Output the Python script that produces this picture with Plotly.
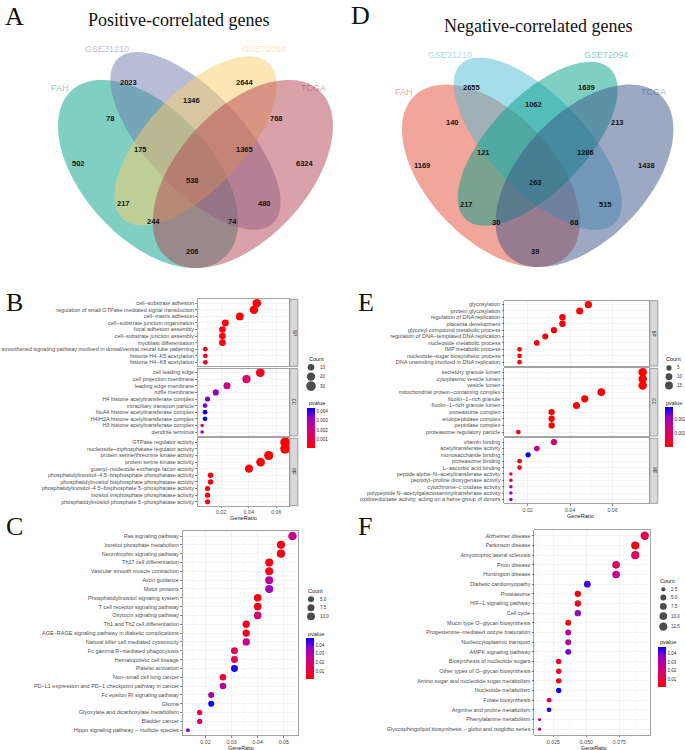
import numpy as np
import plotly.graph_objects as go

W, H = 685, 750
FONT = "Liberation Sans"
SERIF = "Liberation Serif"

# ---------------- Venn data ----------------
venn_sets = ["FAH", "GSE31210", "GSE72094", "TCGA"]
venn_regions = ["FAH", "GSE31210", "GSE72094", "TCGA",
                "FAH&GSE31210", "GSE31210&GSE72094", "GSE72094&TCGA",
                "FAH&GSE72094", "GSE31210&TCGA", "FAH&TCGA",
                "FAH&GSE31210&GSE72094", "GSE31210&GSE72094&TCGA",
                "FAH&GSE72094&TCGA", "FAH&GSE31210&TCGA", "all"]
pos_counts = [502, 2023, 2644, 6324, 78, 1346, 768, 217, 480, 206, 175, 1365, 244, 74, 538]
neg_counts = [1169, 2655, 1639, 1438, 140, 1062, 213, 217, 515, 39, 121, 1286, 30, 68, 263]
pos_colors = ["#00A087", "#6F7CAE", "#FBCD69", "#B34351"]
neg_colors = ["#E64B35", "#4DBBD5", "#00A087", "#3C5488"]

# ---------------- B : GO positive ----------------
B_bp_terms = ["cell−substrate adhesion", "regulation of small GTPase mediated signal transduction",
              "cell−matrix adhesion", "cell−substrate junction organization", "focal adhesion assembly",
              "cell−substrate junction assembly", "myoblast differentiation",
              "smoothened signaling pathway involved in dorsal/ventral neural tube patterning",
              "histone H4−K5 acetylation", "histone H4−K8 acetylation"]
B_bp_ratio = [0.0459, 0.0438, 0.0336, 0.0231, 0.0210, 0.0210, 0.0210, 0.0086, 0.0086, 0.0086]
B_bp_count = [22, 21, 16, 11, 10, 10, 10, 4, 4, 4]
B_bp_p = [0.0001, 0.0002, 0.0001, 0.0002, 0.0002, 0.0002, 0.0003, 0.0006, 0.0006, 0.0006]

B_cc_terms = ["cell leading edge", "cell projection membrane", "leading edge membrane", "ruffle membrane",
              "H4 histone acetyltransferase complex", "intraciliary transport particle",
              "NuA4 histone acetyltransferase complex", "H4/H2A histone acetyltransferase complex",
              "H3 histone acetyltransferase complex", "dendrite terminus"]
B_cc_ratio = [0.0484, 0.0384, 0.0243, 0.0162, 0.0102, 0.0084, 0.0084, 0.0084, 0.0063, 0.0063]
B_cc_count = [23, 18, 12, 8, 5, 4, 4, 4, 3, 3]
B_cc_p = [0.0006, 0.0015, 0.0022, 0.0032, 0.0035, 0.0036, 0.0043, 0.0043, 0.0012, 0.0034]

B_mf_terms = ["GTPase regulator activity", "nucleoside−triphosphatase regulator activity",
              "protein serine/threonine kinase activity", "protein serine kinase activity",
              "guanyl−nucleotide exchange factor activity",
              "phosphatidylinositol−4,5−bisphosphate phosphatase activity",
              "phosphatidylinositol bisphosphate phosphatase activity",
              "phosphatidylinositol−4,5−bisphosphate 5−phosphatase activity",
              "inositol trisphosphate phosphatase activity",
              "phosphatidylinositol phosphate 5−phosphatase activity"]
B_mf_ratio = [0.0664, 0.0664, 0.0545, 0.0486, 0.0402, 0.0124, 0.0124, 0.0102, 0.0102, 0.0102]
B_mf_count = [31, 31, 26, 23, 19, 6, 6, 5, 5, 5]
B_mf_p = [0.0001, 0.0001, 0.0001, 0.0001, 0.0002, 0.0002, 0.0002, 0.0002, 0.0002, 0.0002]

# ---------------- C : KEGG positive ----------------
C_terms = ["Ras signaling pathway", "Inositol phosphate metabolism", "Neurotrophin signaling pathway",
           "Th17 cell differentiation", "Vascular smooth muscle contraction", "Axon guidance",
           "Motor proteins", "Phosphatidylinositol signaling system", "T cell receptor signaling pathway",
           "Oxytocin signaling pathway", "Th1 and Th2 cell differentiation",
           "AGE−RAGE signaling pathway in diabetic complications",
           "Natural killer cell mediated cytotoxicity", "Fc gamma R−mediated phagocytosis",
           "Hematopoietic cell lineage", "Platelet activation", "Non−small cell lung cancer",
           "PD−L1 expression and PD−1 checkpoint pathway in cancer", "Fc epsilon RI signaling pathway",
           "Glioma", "Glyoxylate and dicarboxylate metabolism", "Bladder cancer",
           "Hippo signaling pathway − multiple species"]
C_count = [12, 11, 11, 10, 10, 10, 10, 9, 9, 9, 8, 8, 8, 7, 7, 7, 6, 6, 5, 5, 4, 4, 3]
C_ratio = [0.0533, 0.0489, 0.0489, 0.0444, 0.0444, 0.0444, 0.0444, 0.0400, 0.0400, 0.0400,
           0.0356, 0.0356, 0.0356, 0.0311, 0.0311, 0.0311, 0.0267, 0.0267, 0.0222, 0.0222,
           0.0178, 0.0178, 0.0133]
C_p = [0.024, 0.004, 0.004, 0.003, 0.004, 0.029, 0.034, 0.003, 0.004, 0.019, 0.006, 0.006,
       0.024, 0.012, 0.012, 0.046, 0.009, 0.029, 0.032, 0.047, 0.009, 0.018, 0.036]

# ---------------- E : GO negative ----------------
E_bp_terms = ["glycosylation", "protein glycosylation", "regulation of DNA replication",
              "placenta development", "glycosyl compound metabolic process",
              "regulation of DNA−templated DNA replication", "nucleoside metabolic process",
              "IMP metabolic process", "nucleotide−sugar biosynthetic process",
              "DNA unwinding involved in DNA replication"]
E_bp_ratio = [0.0486, 0.0445, 0.0364, 0.0364, 0.0324, 0.0283, 0.0243, 0.0162, 0.0162, 0.0162]
E_bp_count = [12, 11, 9, 9, 8, 7, 6, 4, 4, 4]
E_bp_p = [0.00002, 0.00003, 0.00004, 0.00004, 0.00005, 0.00006, 0.00008, 0.0001, 0.0001, 0.0001]

E_cc_terms = ["secretory granule lumen", "cytoplasmic vesicle lumen", "vesicle lumen",
              "mitochondrial protein−containing complex", "ficolin−1−rich granule",
              "ficolin−1−rich granule lumen", "proteasome complex", "endopeptidase complex",
              "peptidase complex", "proteasome regulatory particle"]
E_cc_ratio = [0.0742, 0.0742, 0.0742, 0.0547, 0.0469, 0.0430, 0.0313, 0.0313, 0.0313, 0.0156]
E_cc_count = [19, 19, 19, 14, 12, 11, 8, 8, 8, 4]
E_cc_p = [0.00001, 0.00001, 0.00001, 0.00002, 0.00003, 0.00003, 0.00004, 0.00004, 0.00004, 0.0001]

E_mf_terms = ["vitamin binding", "acetyltransferase activity", "monosaccharide binding",
              "proteasome binding", "L−ascorbic acid binding",
              "peptide alpha−N−acetyltransferase activity", "peptidyl−proline dioxygenase activity",
              "cytochrome−c oxidase activity",
              "polypeptide N−acetylgalactosaminyltransferase activity",
              "oxidoreductase activity, acting on a heme group of donors"]
E_mf_ratio = [0.0324, 0.0243, 0.0202, 0.0162, 0.0162, 0.0121, 0.0121, 0.0121, 0.0121, 0.0121]
E_mf_count = [8, 6, 5, 4, 4, 3, 3, 3, 3, 3]
E_mf_p = [0.0012, 0.0016, 0.0029, 0.0002, 0.0002, 0.0004, 0.0004, 0.0020, 0.0020, 0.0022]

# ---------------- F : KEGG negative ----------------
F_terms = ["Alzheimer disease", "Parkinson disease", "Amyotrophic lateral sclerosis", "Prion disease",
           "Huntington disease", "Diabetic cardiomyopathy", "Proteasome", "HIF−1 signaling pathway",
           "Cell cycle", "Mucin type O−glycan biosynthesis", "Progesterone−mediated oocyte maturation",
           "Nucleocytoplasmic transport", "AMPK signaling pathway", "Biosynthesis of nucleotide sugars",
           "Other types of O−glycan biosynthesis", "Amino sugar and nucleotide sugar metabolism",
           "Nucleotide metabolism", "Folate biosynthesis", "Arginine and proline metabolism",
           "Phenylalanine metabolism", "Glycosphingolipid biosynthesis − globo and isoglobo series"]
F_count = [13, 12, 12, 10, 10, 7, 6, 6, 6, 5, 5, 5, 5, 4, 4, 4, 4, 3, 3, 2, 2]
F_ratio = [0.0942, 0.0870, 0.0870, 0.0725, 0.0725, 0.0507, 0.0435, 0.0435, 0.0435, 0.0362,
           0.0362, 0.0362, 0.0362, 0.0290, 0.0290, 0.0290, 0.0290, 0.0217, 0.0217, 0.0145, 0.0145]
F_p = [0.012, 0.004, 0.015, 0.017, 0.026, 0.043, 0.002, 0.005, 0.036, 0.003, 0.030, 0.030,
       0.039, 0.007, 0.007, 0.007, 0.047, 0.012, 0.045, 0.023, 0.023]

# ---------------- helpers ----------------
PSCALE = [[0, "#FF0000"], [0.25, "#E8004F"], [0.5, "#C90089"], [0.75, "#9A00C2"], [1, "#0000FF"]]
GRID = "#EBEBEB"
MINOR = "#F4F4F4"
BORDER = "#8C8C8C"


def fx(px):
    return px / W


def fy(py):
    return 1 - py / H


def names(i):
    if i == 1:
        return "xaxis", "yaxis", "x", "y"
    return f"xaxis{i}", f"yaxis{i}", f"x{i}", f"y{i}"


def rgba(h, a):
    h = h.lstrip("#")
    r, g, b = int(h[0:2], 16), int(h[2:4], 16), int(h[4:6], 16)
    return f"rgba({r},{g},{b},{a})"


layout = dict(width=W, height=H, margin=dict(l=0, r=0, t=0, b=0, autoexpand=False),
              paper_bgcolor="white", plot_bgcolor="white", showlegend=False,
              font=dict(family=FONT, color="#1A1A1A"), template="none",
              shapes=[], annotations=[])
traces = []


def ann(px, py, text, size, color="#1A1A1A", family=FONT, xanchor="center", yanchor="middle",
        angle=0, weight="normal"):
    layout["annotations"].append(dict(
        x=fx(px), y=fy(py), xref="paper", yref="paper", text=text, showarrow=False,
        xanchor=xanchor, yanchor=yanchor, textangle=angle,
        font=dict(size=size, color=color, family=family, weight=weight)))


# ---------------- Venn ----------------
ELLIPSES = [(0.35, 0.47, 0.35, 0.20, 135), (0.50, 0.57, 0.35, 0.15, 135),
            (0.50, 0.57, 0.33, 0.15, 45), (0.65, 0.47, 0.35, 0.20, 45)]
REGION_XY = [(0.130, 0.503), (0.288, 0.746), (0.657, 0.746), (0.847, 0.503),
             (0.228, 0.637), (0.487, 0.692), (0.757, 0.637),
             (0.273, 0.379), (0.717, 0.379), (0.492, 0.234),
             (0.327, 0.543), (0.654, 0.543), (0.366, 0.325), (0.616, 0.325), (0.492, 0.449)]
SETLABEL_XY = [(0.070, 0.731), (0.220, 0.848), (0.718, 0.848), (0.872, 0.731)]


def ellipse_path(cx, cy, a, b, rot, n=160):
    t = np.linspace(0, 2 * np.pi, n, endpoint=False)
    th = np.radians(rot)
    x = cx + a * np.cos(t) * np.cos(th) - b * np.sin(t) * np.sin(th)
    y = cy + a * np.cos(t) * np.sin(th) + b * np.sin(t) * np.cos(th)
    return "M " + " L ".join(f"{xi:.4f},{yi:.4f}" for xi, yi in zip(x, y)) + " Z"


def venn(i, counts, colors, px0, px1, py0, py1, xr, yr):
    xa, ya, xs, ys = names(i)
    layout[xa] = dict(domain=[fx(px0), fx(px1)], range=xr, visible=False, anchor=ys, fixedrange=True)
    layout[ya] = dict(domain=[fy(py1), fy(py0)], range=yr, visible=False, anchor=xs, fixedrange=True)
    for (cx, cy, a, b, rot), col in zip(ELLIPSES, colors):
        layout["shapes"].append(dict(type="path", path=ellipse_path(cx, cy, a, b, rot), xref=xs, yref=ys,
                                     fillcolor=col, opacity=0.5, line=dict(width=0), layer="below"))
    for (ux, uy), v in zip(REGION_XY, counts):
        layout["annotations"].append(dict(x=ux, y=uy, xref=xs, yref=ys, text=str(v), showarrow=False,
                                          font=dict(size=7.5, color="#111111", family=FONT, weight="bold")))
    for (ux, uy), name, col in zip(SETLABEL_XY, venn_sets, colors):
        layout["annotations"].append(dict(x=ux, y=uy, xref=xs, yref=ys, text=name, showarrow=False,
                                          font=dict(size=9, color=rgba(col, 0.5), family=FONT)))


venn(1, pos_counts, pos_colors, 0, 340, 30, 290, [-0.1185, 0.9574], [0.1183, 0.9062])
venn(2, neg_counts, neg_colors, 340, 685, 30, 290, [-0.1337, 0.9720], [0.1131, 0.9256])

ann(178, 19.5, "Positive-correlated genes", 18, "#111111", SERIF)
ann(538, 25.5, "Negative-correlated genes", 18, "#111111", SERIF)
for letter, px, py in [("A", 3, 17), ("D", 349, 15), ("B", 4, 302.5), ("E", 356, 302.5),
                       ("C", 4, 526), ("F", 356, 526)]:
    ann(px, py, letter, 26, "#111111", SERIF, xanchor="left")


# ---------------- dot plots ----------------
def gg_range(vals):
    lo, hi = min(vals), max(vals)
    r = hi - lo
    return [lo - 0.05 * r, hi + 0.05 * r]


def size_fn(counts, dmin, dmax):
    cmin, cmax = min(counts), max(counts)
    return lambda c: dmin + (dmax - dmin) * np.sqrt((c - cmin) / (cmax - cmin))


def facet(i, terms, ratio, count, pval, px0, px1, py0, py1, xr, cax, dfun, xticks, xtext, xminor,
          show_x, strip=None):
    xa, ya, xs, ys = names(i)
    n = len(terms)
    layout[xa] = dict(domain=[fx(px0), fx(px1)], range=xr, anchor=ys, tickmode="array",
                      tickvals=xticks, ticktext=xtext, showticklabels=show_x,
                      ticks="outside" if show_x else "", ticklen=1.5, tickwidth=0.6, tickcolor="#333333",
                      tickfont=dict(size=5.3, color="#4D4D4D"), showgrid=True, gridcolor=GRID,
                      gridwidth=0.6, zeroline=False, showline=True, mirror=True, linecolor=BORDER,
                      linewidth=0.8, fixedrange=True,
                      minor=dict(tickmode="array", tickvals=xminor, showgrid=True, gridcolor=MINOR,
                                 gridwidth=0.4, ticks=""))
    layout[ya] = dict(domain=[fy(py1), fy(py0)], range=[n - 0.4, -0.6], anchor=xs, tickmode="array",
                      tickvals=list(range(n)), ticktext=terms, ticks="outside", ticklen=2,
                      tickwidth=0.6, tickcolor="#333333", tickfont=dict(size=5.5, color="#4D4D4D"),
                      showgrid=True, gridcolor=GRID, gridwidth=0.6, zeroline=False, showline=True,
                      mirror=True, linecolor=BORDER, linewidth=0.8, fixedrange=True)
    traces.append(go.Scatter(x=ratio, y=list(range(n)), xaxis=xs, yaxis=ys, mode="markers",
                             marker=dict(size=[dfun(c) for c in count], color=pval, coloraxis=cax,
                                         line=dict(width=0), opacity=1),
                             hoverinfo="skip", cliponaxis=False))
    if strip:
        layout["shapes"].append(dict(type="rect", xref="paper", yref="paper", x0=fx(px1 + 0.5),
                                     x1=fx(px1 + 8.5), y0=fy(py1), y1=fy(py0), fillcolor="#D9D9D9",
                                     line=dict(color=BORDER, width=0.8), layer="above"))
        ann(px1 + 4.5, (py0 + py1) / 2, strip, 4.5, "#1A1A1A", angle=90)


def colorbar_axis(cmin, cmax, px_left, py_top, py_bot, tickvals, fmt):
    return dict(cmin=cmin, cmax=cmax, colorscale=PSCALE,
                colorbar=dict(x=fx(px_left), xanchor="left", y=fy(py_bot), yanchor="bottom",
                              len=py_bot - py_top, lenmode="pixels", thickness=7.5,
                              thicknessmode="pixels", outlinewidth=0, xpad=0, ypad=0,
                              tickmode="array", tickvals=tickvals, tickformat=fmt, ticks="",
                              tickfont=dict(size=4.5, color="#333333", family=FONT)))


def size_legend(i, breaks, labels, dfun, px_dot, py_first, kmin, pad, title_xy, label_x, ptitle_xy):
    xa, ya, xs, ys = names(i)
    sizes = [dfun(b) for b in breaks]
    keys = [max(kmin, s + pad) for s in sizes]
    centers = [py_first]
    for k in range(1, len(keys)):
        centers.append(centers[-1] + (keys[k - 1] + keys[k]) / 2)
    top, bot = centers[0] - 10, centers[-1] + 10
    layout[xa] = dict(domain=[fx(px_dot - 8), fx(px_dot + 8)], range=[-1, 1], visible=False,
                      anchor=ys, fixedrange=True)
    layout[ya] = dict(domain=[fy(bot), fy(top)], range=[bot, top], visible=False, anchor=xs,
                      fixedrange=True)
    traces.append(go.Scatter(x=[0] * len(breaks), y=centers, xaxis=xs, yaxis=ys, mode="markers",
                             marker=dict(size=sizes, color="black", line=dict(width=0)),
                             hoverinfo="skip", cliponaxis=False))
    for c, lab in zip(centers, labels):
        ann(label_x, c, lab, 4.5, "#333333", xanchor="left")
    ann(title_xy[0], title_xy[1], "Count", 5.5, "#1A1A1A", xanchor="left")
    ann(ptitle_xy[0], ptitle_xy[1], "pvalue", 5.5, "#1A1A1A", xanchor="left")


# ----- B -----
B_all_ratio = B_bp_ratio + B_cc_ratio + B_mf_ratio
B_all_count = B_bp_count + B_cc_count + B_mf_count
bxr = gg_range(B_all_ratio)
bsz = size_fn(B_all_count, 3.5, 9.8)
B_facets = [(B_bp_terms, B_bp_ratio, B_bp_count, B_bp_p, 299.3, 366.3, "BP"),
            (B_cc_terms, B_cc_ratio, B_cc_count, B_cc_p, 368.6, 436.0, "CC"),
            (B_mf_terms, B_mf_ratio, B_mf_count, B_mf_p, 438.3, 505.7, "MF")]
for k, (t, r, c, p, y0, y1, s) in enumerate(B_facets):
    facet(3 + k, t, r, c, p, 198.0, 289.3, y0, y1, bxr, "coloraxis", bsz,
          [0.02, 0.04, 0.06], ["0.02", "0.04", "0.06"], [0.01, 0.03, 0.05], k == 2, s)
ann(243.5, 518.0, "GeneRatio", 5.6)

# ----- E -----
E_all_ratio = E_bp_ratio + E_cc_ratio + E_mf_ratio
E_all_count = E_bp_count + E_cc_count + E_mf_count
exr = gg_range(E_all_ratio)
esz = size_fn(E_all_count, 3.5, 8.5)
E_facets = [(E_bp_terms, E_bp_ratio, E_bp_count, E_bp_p, 300.7, 366.0, "BP"),
            (E_cc_terms, E_cc_ratio, E_cc_count, E_cc_p, 368.3, 436.0, "CC"),
            (E_mf_terms, E_mf_ratio, E_mf_count, E_mf_p, 438.3, 503.3, "MF")]
for k, (t, r, c, p, y0, y1, s) in enumerate(E_facets):
    facet(6 + k, t, r, c, p, 504.3, 649.3, y0, y1, exr, "coloraxis3", esz,
          [0.02, 0.04, 0.06], ["0.02", "0.04", "0.06"], [0.01, 0.03, 0.05, 0.07], k == 2, s)
ann(580.0, 516.0, "GeneRatio", 5.6)

# ----- C -----
csz = size_fn(C_count, 3.8, 8.5)
facet(9, C_terms, C_ratio, C_count, C_p, 182.7, 297.7, 530.7, 735.5, gg_range(C_ratio), "coloraxis2",
      csz, [0.02, 0.03, 0.04, 0.05], ["0.02", "0.03", "0.04", "0.05"],
      [0.015, 0.025, 0.035, 0.045, 0.055], True)
ann(241.0, 747.8, "GeneRatio", 5.4)

# ----- F -----
fsz = size_fn(F_count, 3.2, 8.4)
facet(10, F_terms, F_ratio, F_count, F_p, 534.3, 650.0, 530.0, 735.0, gg_range(F_ratio), "coloraxis4",
      fsz, [0.025, 0.05, 0.075], ["0.025", "0.050", "0.075"], [0.0125, 0.0375, 0.0625, 0.0875], True)
ann(594.0, 747.8, "GeneRatio", 5.4)

# ----- legends -----
layout["coloraxis"] = colorbar_axis(0.00005, 0.0044, 306.7, 408.0, 448.0,
                                    [0.001, 0.002, 0.003, 0.004], ".3f")
layout["coloraxis2"] = colorbar_axis(0.0005, 0.048, 306.0, 638.3, 679.3,
                                     [0.01, 0.02, 0.03, 0.04], ".2f")
layout["coloraxis3"] = colorbar_axis(0.00001, 0.0029, 665.0, 406.7, 446.7,
                                     [0.001, 0.002], ".3f")
layout["coloraxis4"] = colorbar_axis(0.001, 0.048, 658.3, 646.7, 686.7,
                                     [0.01, 0.02, 0.03, 0.04], ".2f")

size_legend(11, [10, 20, 30], ["10", "20", "30"], bsz, 311.0, 367.3, 9.3, 0.0,
            (306.7, 359.3), 318.0, (306.7, 403.3))
size_legend(12, [5, 7.5, 10], ["5.0", "7.5", "10.0"], csz, 311.0, 599.3, 8.4, 1.0,
            (306.0, 590.7), 318.0, (306.0, 634.3))
size_legend(13, [5, 10, 15], ["5", "10", "15"], esz, 669.0, 368.0, 8.7, 1.0,
            (664.0, 359.3), 674.5, (664.0, 402.7))
size_legend(14, [2.5, 5, 7.5, 10, 12.5], ["2.5", "5.0", "7.5", "10.0", "12.5"], fsz, 663.3, 589.3,
            8.0, 2.5, (658.3, 581.0), 668.5, (658.3, 642.3))

fig = go.Figure(data=traces)
fig.update_layout(**layout)
fig.write_html("out.html", config={"displayModeBar": False, "staticPlot": True},
               post_script="document.body.style.margin='0';document.body.style.overflow='hidden';")
